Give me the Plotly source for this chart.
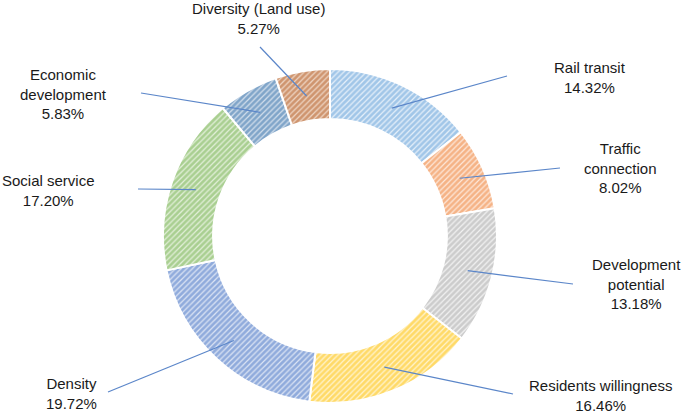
import math
import plotly.graph_objects as go

labels = ["Rail transit", "Traffic connection", "Development potential", "Residents willingness",
          "Density", "Social service", "Economic development", "Diversity (Land use)"]
label_text = ["Rail transit", "Traffic<br>connection", "Development<br>potential", "Residents willingness",
              "Density", "Social service", "Economic<br>development", "Diversity (Land use)"]
values = [14.32, 8.02, 13.18, 16.46, 19.72, 17.20, 5.83, 5.27]

fg_colors = ["#5B9BD5", "#ED7D31", "#A5A5A5", "#FFC000", "#4472C4", "#70AD47", "#2E6BA6", "#B0561A"]
bg_colors = ["#E6F0FA", "#FDE8DA", "#F2F2F2", "#FFF4D0", "#DCE4F4", "#E3F0DA", "#D3DFEC", "#EED5C4"]

W, H = 685, 414
CX, CY, R_OUT = 330, 236, 167
HOLE = 0.70
R_MID = R_OUT * (1 + HOLE) / 2

# label block centres (pixels) and outer ends of leader lines (pixels)
label_pos = [(590, 78), (620, 168), (636, 284), (600, 395),
             (71, 393), (48, 190), (64, 94), (258, 19)]
line_outer = [(507, 76), (560, 168), (573, 284), (513, 394),
              (108, 392), (138, 189), (141, 93), (260, 47)]

fig = go.Figure()
fig.add_trace(go.Pie(
    labels=labels, values=values, sort=False, direction="clockwise", rotation=0,
    hole=HOLE, textinfo="none", hoverinfo="label+percent", showlegend=False,
    domain=dict(x=[(CX - R_OUT) / W, (CX + R_OUT) / W],
                y=[1 - (CY + R_OUT) / H, 1 - (CY - R_OUT) / H]),
    marker=dict(colors=bg_colors,
                line=dict(color="white", width=2),
                pattern=dict(shape="/", fgcolor=fg_colors, bgcolor=bg_colors,
                             size=4, solidity=0.7, fillmode="overlay")),
))

total = sum(values)
cum = 0
shapes, annotations = [], []
for i, v in enumerate(values):
    mid = (cum + v / 2) / total * 2 * math.pi
    cum += v
    ix = CX + R_MID * math.sin(mid)
    iy = CY - R_MID * math.cos(mid)
    ox, oy = line_outer[i]
    shapes.append(dict(type="line", xref="paper", yref="paper",
                       x0=ix / W, y0=1 - iy / H, x1=ox / W, y1=1 - oy / H,
                       line=dict(color="#5B86C9", width=1.2)))
    pct = f"{v:.2f}%"
    lx, ly = label_pos[i]
    annotations.append(dict(text=f"{label_text[i]}<br>{pct}", x=lx / W, y=1 - ly / H,
                            xref="paper", yref="paper", showarrow=False,
                            xanchor="center", yanchor="middle", align="center",
                            font=dict(size=15, color="#1a1a1a", family="Liberation Sans")))

fig.update_layout(width=W, height=H, margin=dict(l=0, r=0, t=0, b=0),
                  paper_bgcolor="white", plot_bgcolor="white",
                  shapes=shapes, annotations=annotations)
fig.write_html("out.html", config={"displayModeBar": False},
               post_script="document.body.style.margin='0';")
